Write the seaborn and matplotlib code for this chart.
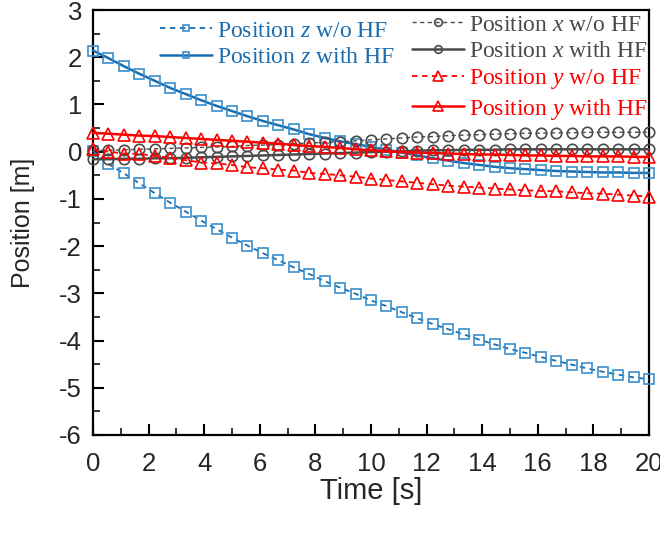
import numpy as np
import pandas as pd
import matplotlib
matplotlib.use("Agg")
import matplotlib.pyplot as plt
from matplotlib.lines import Line2D
import seaborn as sns

# ---- data ----
time_s = [0, 0.556, 1.111, 1.667, 2.222, 2.778, 3.333, 3.889, 4.444, 5.0,
          5.556, 6.111, 6.667, 7.222, 7.778, 8.333, 8.889, 9.444, 10.0,
          10.556, 11.111, 11.667, 12.222, 12.778, 13.333, 13.889, 14.444,
          15.0, 15.556, 16.111, 16.667, 17.222, 17.778, 18.333, 18.889,
          19.444, 20.0]

z_without_hf = [0.02, -0.26, -0.46, -0.67, -0.88, -1.08, -1.27, -1.46, -1.64,
                -1.82, -1.99, -2.15, -2.30, -2.45, -2.59, -2.74, -2.88, -3.01,
                -3.15, -3.27, -3.40, -3.53, -3.65, -3.76, -3.87, -3.98, -4.08,
                -4.18, -4.26, -4.35, -4.43, -4.51, -4.59, -4.66, -4.72, -4.78,
                -4.82]
z_with_hf = [2.14, 1.98, 1.81, 1.65, 1.50, 1.35, 1.22, 1.09, 0.97, 0.86, 0.75,
             0.65, 0.56, 0.47, 0.37, 0.29, 0.22, 0.16, 0.10, 0.04, -0.02,
             -0.08, -0.14, -0.19, -0.24, -0.28, -0.32, -0.35, -0.37, -0.39,
             -0.41, -0.42, -0.43, -0.44, -0.44, -0.45, -0.45]
x_without_hf = [0.03, 0.03, 0.04, 0.05, 0.06, 0.07, 0.08, 0.09, 0.10, 0.11,
                0.13, 0.14, 0.15, 0.17, 0.18, 0.20, 0.21, 0.23, 0.25, 0.27,
                0.29, 0.31, 0.32, 0.34, 0.35, 0.36, 0.37, 0.38, 0.39, 0.39,
                0.40, 0.40, 0.41, 0.41, 0.41, 0.41, 0.41]
x_with_hf = [-0.16, -0.16, -0.15, -0.15, -0.14, -0.14, -0.13, -0.12, -0.11,
             -0.10, -0.09, -0.08, -0.07, -0.06, -0.05, -0.04, -0.03, -0.02,
             -0.01, 0.00, 0.01, 0.02, 0.03, 0.03, 0.04, 0.04, 0.04, 0.05,
             0.05, 0.05, 0.05, 0.05, 0.05, 0.05, 0.05, 0.05, 0.05]
y_without_hf = [0.05, 0.00, -0.04, -0.05, -0.09, -0.13, -0.18, -0.23, -0.25,
                -0.28, -0.33, -0.35, -0.38, -0.40, -0.45, -0.47, -0.50, -0.53,
                -0.57, -0.60, -0.63, -0.66, -0.69, -0.72, -0.74, -0.76, -0.78,
                -0.80, -0.82, -0.83, -0.84, -0.86, -0.88, -0.89, -0.91, -0.93,
                -0.95]
y_with_hf = [0.40, 0.38, 0.36, 0.34, 0.33, 0.31, 0.29, 0.27, 0.25, 0.23, 0.21,
             0.19, 0.17, 0.14, 0.12, 0.10, 0.08, 0.05, 0.03, 0.01, -0.01,
             -0.02, -0.03, -0.04, -0.05, -0.06, -0.06, -0.07, -0.08, -0.08,
             -0.09, -0.09, -0.10, -0.10, -0.10, -0.11, -0.11]

labels = ["Position $z$ w/o HF", "Position $z$ with HF",
          "Position $x$ w/o HF", "Position $x$ with HF",
          "Position $y$ w/o HF", "Position $y$ with HF"]

sns.set_style("ticks")
plt.rcParams["font.family"] = ["Liberation Sans", "DejaVu Sans"]
plt.rcParams["axes.unicode_minus"] = False
plt.rcParams["mathtext.fontset"] = "custom"
plt.rcParams["mathtext.rm"] = "Liberation Serif"
plt.rcParams["mathtext.it"] = "Liberation Serif:italic"

fig = plt.figure(figsize=(6.6, 5.33), dpi=100)
ax = fig.add_axes([93 / 660, 1 - 435 / 533, (649 - 93) / 660, (435 - 10) / 533])

BLUE = "#1a6db0"
BLUE_M = "#3a8fcc"
GRAY = "#4a4a4a"
RED = "#ff0000"

styles = [
    dict(y=z_without_hf, color=BLUE, mec=BLUE_M, ls=(0, (3, 2.5)), marker="s", ms=6.5, lw=1.3, lms=5),
    dict(y=z_with_hf, color=BLUE, mec=BLUE_M, ls="-", marker="s", ms=6.5, lw=1.8, lms=5),
    dict(y=x_without_hf, color=GRAY, mec=GRAY, ls=(0, (3, 2.5)), marker="o", ms=7.5, lw=1.0, lms=5.5),
    dict(y=x_with_hf, color=GRAY, mec=GRAY, ls="-", marker="o", ms=7.5, lw=1.8, lms=5.5),
    dict(y=y_without_hf, color=RED, mec=RED, ls=(0, (3, 2.5)), marker="^", ms=8, lw=1.3, lms=7),
    dict(y=y_with_hf, color=RED, mec=RED, ls="-", marker="^", ms=8, lw=1.8, lms=7),
]

handles = []
for st, lab in zip(styles, labels):
    df = pd.DataFrame({"t": time_s, "v": st["y"]})
    sns.lineplot(data=df, x="t", y="v", ax=ax, color=st["color"],
                 linestyle=st["ls"], linewidth=st["lw"], marker=st["marker"],
                 markersize=st["ms"], markerfacecolor="none",
                 markeredgecolor=st["mec"], markeredgewidth=1.2,
                 legend=False, clip_on=False, zorder=3)
    handles.append(Line2D([], [], color=st["color"], linestyle=st["ls"],
                          linewidth=st["lw"], marker=st["marker"],
                          markersize=st["lms"], markerfacecolor="none",
                          markeredgecolor=st["mec"], markeredgewidth=1.2))

ax.set_xlim(0, 20)
ax.set_ylim(-6, 3)
ax.set_xticks(range(0, 21, 2))
ax.set_xticks(range(1, 20, 2), minor=True)
ax.set_yticks(range(-6, 4))
ax.set_yticks(np.arange(-5.5, 3, 1.0), minor=True)
ax.tick_params(which="major", direction="in", length=8, width=1.5,
               labelsize=18.5, color="black")
ax.tick_params(which="minor", direction="in", length=5, width=1.3)
ax.tick_params(axis="x", pad=12)
ax.tick_params(axis="y", pad=8)
for s in ax.spines.values():
    s.set_linewidth(1.6)
    s.set_color("black")

ax.set_xlabel("Time [s]", fontsize=21, labelpad=1)
ax.set_ylabel("Position [m]", fontsize=18, labelpad=17)

prop = {"family": "Liberation Serif", "size": 17}
leg1 = ax.legend(handles[:2], labels[:2], loc="upper left",
                 bbox_to_anchor=(160 / 660, 1 - 20 / 533),
                 bbox_transform=fig.transFigure, frameon=False, prop=prop,
                 handlelength=2.2, handletextpad=0.2, labelspacing=0.22,
                 borderpad=0, borderaxespad=0,
                 labelcolor=[BLUE, BLUE])
ax.add_artist(leg1)
ax.legend(handles[2:], labels[2:], loc="upper left",
          bbox_to_anchor=(412 / 660, 1 - 14 / 533),
          bbox_transform=fig.transFigure, frameon=False, prop=prop,
          handlelength=2.2, handletextpad=0.2, labelspacing=0.22,
          borderpad=0, borderaxespad=0,
          labelcolor=[GRAY, GRAY, RED, RED])

fig.savefig("out.png", dpi=100)
